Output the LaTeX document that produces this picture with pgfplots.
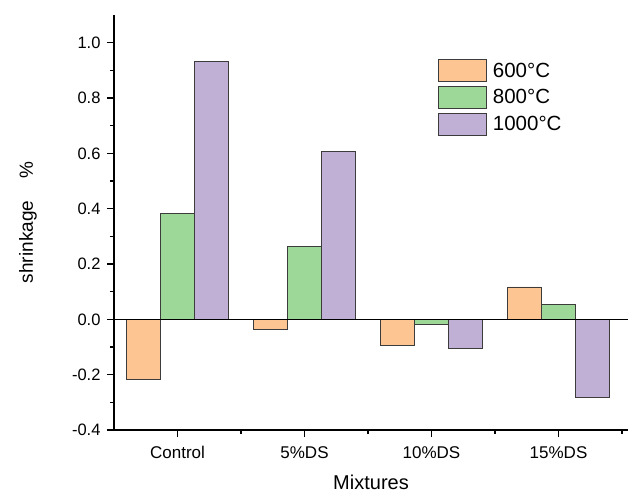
\documentclass[border=0pt]{standalone}
\usepackage{fontspec}
\setmainfont{Liberation Sans}
\usepackage{pgfplots}
\pgfplotsset{compat=1.18}
\definecolor{cA}{HTML}{FDC591}
\definecolor{cB}{HTML}{9ED899}
\definecolor{cC}{HTML}{C0B0D6}
\definecolor{edge}{HTML}{3C3C3C}
\begin{document}
\begin{tikzpicture}[x=1pt,y=1pt]
\path[use as bounding box] (0,0) rectangle (628,493);
\begin{axis}[
  at={(114pt,63pt)}, anchor=south west,
  scale only axis, width=514pt, height=415pt,
  ybar=0pt, bar width=34pt,
  xmin=-0.5, xmax=3.547,
  ymin=-0.4, ymax=1.1,
  axis lines*=left,
  axis line style={black, line width=1.3pt},
  xtick={0,1,2,3},
  xticklabels={Control,5\%DS,10\%DS,15\%DS},
  minor xtick={0.5,1.5,2.5,3.5},
  ytick={-0.4,-0.2,0,0.2,0.4,0.6,0.8,1.0},
  minor ytick={-0.3,-0.1,0.1,0.3,0.5,0.7,0.9},
  tick align=outside,
  major tick length=7pt, minor tick length=4pt,
  every tick/.style={black, line width=1.1pt},
  yticklabel style={/pgf/number format/fixed, /pgf/number format/fixed zerofill, /pgf/number format/precision=1, /pgf/number format/assume math mode=true, font=\fontsize{16.5}{18}\selectfont, xshift=-3pt},
  x tick label style={font=\fontsize{17}{19}\selectfont, yshift=-6pt},
  xlabel={Mixtures},
  xlabel style={font=\fontsize{20}{22}\selectfont, at={(axis description cs:0.5,0)}, anchor=base, yshift=-59pt},
  ylabel={shrinkage\hspace{22pt}\%},
  ylabel style={font=\fontsize{19}{21}\selectfont, at={(axis description cs:0,0.5)}, anchor=base, yshift=81pt},
  legend style={at={(0.630,0.894)}, anchor=north west, draw=none, fill=none,
    inner sep=0pt, row sep=4pt, font=\fontsize{20.5}{22}\selectfont,
    /tikz/every odd column/.append style={column sep=4pt}},
  legend cell align=left,
  legend image code/.code={\draw[#1] (0pt,-11pt) rectangle (48pt,11pt);},
]
\addplot[fill=cA, draw=edge, line width=0.9pt] coordinates {(0,-0.219) (1,-0.037) (2,-0.095) (3,0.117)};
\addplot[fill=cB, draw=edge, line width=0.9pt] coordinates {(0,0.382) (1,0.262) (2,-0.018) (3,0.053)};
\addplot[fill=cC, draw=edge, line width=0.9pt] coordinates {(0,0.932) (1,0.605) (2,-0.106) (3,-0.283)};
\legend{600°C,800°C,1000°C}
\draw[black, line width=1.3pt] (axis cs:-0.5,0) -- (axis cs:3.6,0);
\end{axis}
\end{tikzpicture}
\end{document}
